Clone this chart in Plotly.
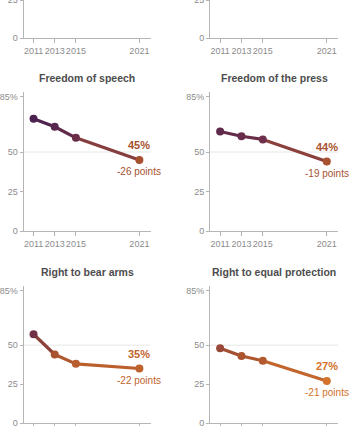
import plotly.graph_objects as go

years = [2011, 2013, 2015, 2021]
tick_years = [2011, 2013, 2015, 2021]
titles = ["Freedom of speech", "Freedom of the press", "Right to bear arms", "Right to equal protection"]
speech = [71, 66, 59, 45]
press = [63, 60, 58, 44]
arms = [57, 44, 38, 35]
equal = [48, 43, 40, 27]
series = [speech, press, arms, equal]
y_tickvals = [0, 25, 50, 85]
y_ticktext = ["0", "25", "50", "85%"]

W, H = 355, 426
FONT = "Liberation Sans, Arial, sans-serif"
# color scale by value
CS = [(25, (216, 118, 42)), (45, (166, 80, 48)), (57, (112, 48, 72)), (72, (72, 33, 80))]


def col(v):
    if v <= CS[0][0]:
        c = CS[0][1]
    elif v >= CS[-1][0]:
        c = CS[-1][1]
    else:
        for (a, ca), (b, cb) in zip(CS[:-1], CS[1:]):
            if a <= v <= b:
                t = (v - a) / (b - a)
                c = tuple(ca[k] + (cb[k] - ca[k]) * t for k in range(3))
                break
    return "rgb(%d,%d,%d)" % tuple(round(x) for x in c)


def px_dom(top, bottom):
    return [1 - bottom / H, 1 - top / H]


xdoms = [[23.5 / W, 150.5 / W], [210 / W, 338 / W]]
ydoms = [px_dom(0, 38), px_dom(92, 231), px_dom(286, 423)]
title_y = [None, 78, 272]

fig = go.Figure()
layout = dict(width=W, height=H, margin=dict(l=0, r=0, t=0, b=0, autoexpand=False),
              paper_bgcolor="white", plot_bgcolor="white", showlegend=False)
axcol = "#b5b5b5"
tickfont = dict(family=FONT, size=9, color="#8c8c8c")
annotations = []
shapes = []

for row in range(3):
    for c in range(2):
        idx = row * 2 + c + 1
        sx = "" if idx == 1 else str(idx)
        layout["xaxis" + sx] = dict(domain=xdoms[c], anchor="y" + sx, range=[2010.05, 2022.05],
                                    tickvals=tick_years, ticktext=[str(t) for t in tick_years],
                                    tickangle=0, automargin=False,
                                    showgrid=False, zeroline=False, showline=True, linecolor=axcol,
                                    linewidth=1, ticks="outside", ticklen=4, tickcolor=axcol,
                                    tickfont=tickfont, fixedrange=True)
        yr = [0, 25] if row == 0 else [0, 88]
        layout["yaxis" + sx] = dict(domain=ydoms[row], anchor="x" + sx, range=yr,
                                    tickvals=y_tickvals, ticktext=y_ticktext, automargin=False,
                                    ticklabeloverflow="allow",
                                    showgrid=False, zeroline=False, showline=True, linecolor=axcol,
                                    linewidth=1, ticks="outside", ticklen=3, tickcolor=axcol,
                                    tickfont=tickfont, fixedrange=True)
        if row == 0:
            # panels whose data lies above the visible window
            fig.add_trace(go.Scatter(x=[None], y=[None], mode="lines", xaxis="x" + sx, yaxis="y" + sx,
                                     hoverinfo="skip"))
            continue
        k = (row - 1) * 2 + c
        vals = series[k]
        shapes.append(dict(type="line", xref="x" + sx + " domain", yref="y" + sx,
                           x0=0, x1=1, y0=50, y1=50, line=dict(color="#e6e6e6", width=1), layer="below"))
        for i in range(len(years) - 1):
            fig.add_trace(go.Scatter(x=years[i:i + 2], y=vals[i:i + 2], mode="lines",
                                     line=dict(color=col((vals[i] + vals[i + 1]) / 2), width=3.2),
                                     xaxis="x" + sx, yaxis="y" + sx, hoverinfo="skip"))
        fig.add_trace(go.Scatter(x=years, y=vals, mode="markers",
                                 marker=dict(size=8, color=[col(v) for v in vals]),
                                 xaxis="x" + sx, yaxis="y" + sx))
        endc = col(vals[-1])
        annotations.append(dict(x=years[-1], y=vals[-1], xref="x" + sx, yref="y" + sx,
                                text="<b>%d%%</b>" % vals[-1], showarrow=False, yshift=15,
                                font=dict(family=FONT, size=11, color=endc)))
        annotations.append(dict(x=years[-1], y=vals[-1], xref="x" + sx, yref="y" + sx,
                                text="%+d points" % (vals[-1] - vals[0]), showarrow=False, yshift=-12,
                                font=dict(family=FONT, size=10, color=endc)))
        annotations.append(dict(x=0.5, xref="x" + sx + " domain", y=1 - title_y[row] / H, yref="paper",
                                text="<b>%s</b>" % titles[k], showarrow=False, yanchor="middle",
                                font=dict(family=FONT, size=10.5, color="#4d4d4d")))

layout["annotations"] = annotations
layout["shapes"] = shapes
fig.update_layout(**layout)
fig.write_html("out.html", config={"displayModeBar": False},
               post_script="document.body.style.margin='0';")
